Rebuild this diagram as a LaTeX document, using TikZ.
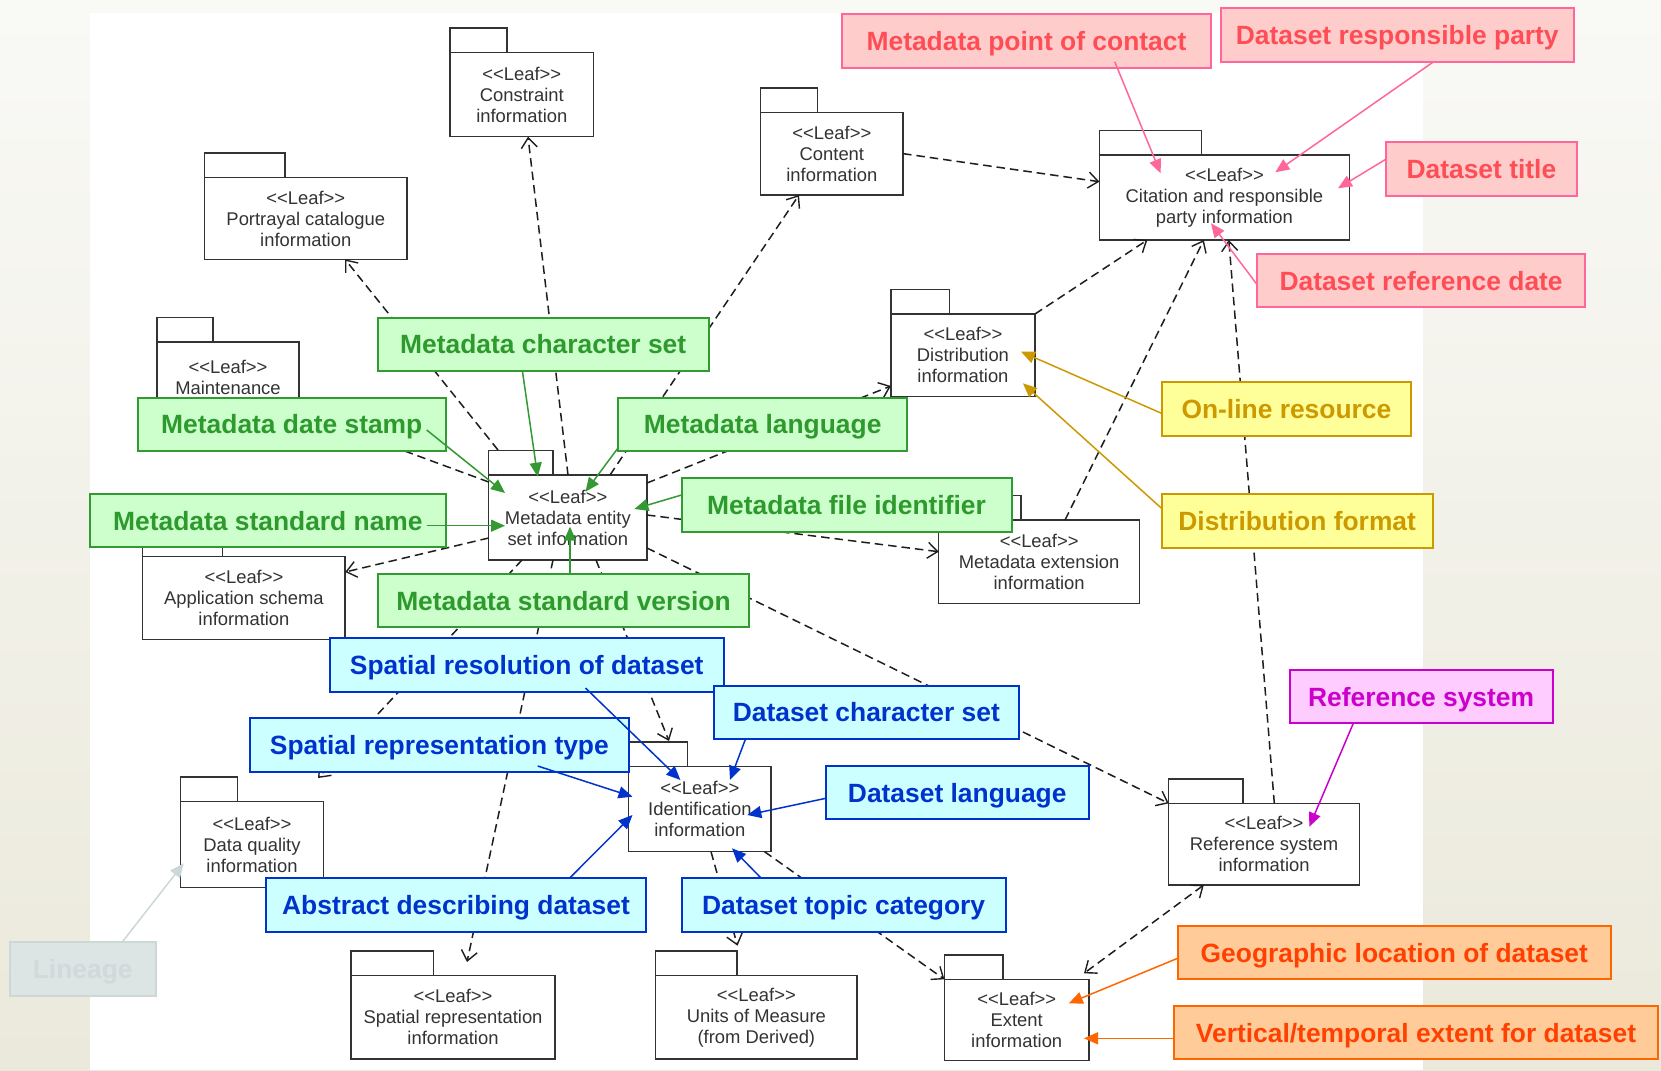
\documentclass[tikz,border=0pt]{standalone}
\usepackage{fontspec}
\setmainfont{Liberation Sans}
\usetikzlibrary{arrows.meta,calc}

\definecolor{pkgink}{HTML}{333333}
\definecolor{depink}{HTML}{1E1E1E}
\definecolor{gFill}{HTML}{CCFFCC}
\definecolor{gLine}{HTML}{339933}
\definecolor{gText}{HTML}{2E9A2E}
\definecolor{bFill}{HTML}{CCFFFF}
\definecolor{bLine}{HTML}{0033CC}
\definecolor{pFill}{HTML}{FFCCCC}
\definecolor{pLine}{HTML}{FF6699}
\definecolor{pText}{HTML}{FF4D55}
\definecolor{yFill}{HTML}{FFFF99}
\definecolor{yLine}{HTML}{CC9900}
\definecolor{mFill}{HTML}{FFCCFF}
\definecolor{mLine}{HTML}{CC00CC}
\definecolor{oFill}{HTML}{FFCC99}
\definecolor{oLine}{HTML}{FF6600}
\definecolor{oText}{HTML}{FF4000}
\definecolor{lFill}{HTML}{DDE4E4}
\definecolor{lLine}{HTML}{CCD8D8}
\definecolor{lText}{HTML}{D0DADA}
\definecolor{bgTop}{HTML}{F9F9F6}
\definecolor{bgBot}{HTML}{EBE9DB}

% stereotype line of every package (kerns keep << and >> as plain characters)
\newcommand{\leafhead}{<\kern0pt<Leaf>\kern0pt>}

\tikzset{
  pkgbox/.style={draw=pkgink, line width=1.5pt, fill=white, rectangle, inner sep=0pt,
    outer sep=0pt, anchor=north west, align=center, text=pkgink,
    font=\fontsize{18.4}{21}\selectfont},
  pkgtab/.style={draw=pkgink, line width=1.5pt, fill=white},
  dep/.style={draw=depink, line width=1.5pt, dash pattern=on 8.5pt off 5pt,
    -{Straight Barb[length=10pt,width=16pt,line width=1.4pt]}},
  tag/.style={rectangle, line width=2pt, inner sep=0pt, outer sep=0pt, anchor=north west,
    text height=18.9pt, text depth=0pt,
    font=\fontsize{26.4}{30}\selectfont\bfseries},
  gtag/.style={tag, draw=gLine, fill=gFill, text=gText},
  btag/.style={tag, draw=bLine, fill=bFill, text=bLine},
  ptag/.style={tag, draw=pLine, fill=pFill, text=pText},
  ytag/.style={tag, draw=yLine, fill=yFill, text=yLine},
  mtag/.style={tag, draw=mLine, fill=mFill, text=mLine},
  otag/.style={tag, draw=oLine, fill=oFill, text=oText},
  ltag/.style={tag, draw=lLine, fill=lFill, text=lText},
  pointer/.style={line width=1.5pt, -{Triangle[length=14pt,width=12pt]}},
}

% package: name, left, top, width, height, tab width, text
\newcommand{\leafpkg}[7]{%
  \node[pkgbox, minimum width=#4pt, minimum height=#5pt] (#1) at (#2,#3) {#7};
  \draw[pkgtab] (#1.north west) rectangle ++(#6,-24.5);
}

\begin{document}
\begin{tikzpicture}[x=1pt,y=-1pt]
\useasboundingbox (0,0) rectangle (1661,1070);

% page background
\fill[top color=bgTop, bottom color=bgBot] (0,0) rectangle (1661,1070);
\fill[white] (90,13.3) rectangle (1422.6,1070);

% packages
\leafpkg{constraint}{450}{52.7}{143.6}{84}{57}{\leafhead\\Constraint\\information}
\leafpkg{portrayal}{204.7}{177.7}{202.1}{81.6}{80.3}{\leafhead\\Portrayal catalogue\\information}
\leafpkg{maintenance}{157}{342}{142}{70}{56}{\leafhead\\Maintenance}
\leafpkg{content}{760.7}{112.3}{142.3}{82.7}{56.7}{\leafhead\\Content\\information}
\leafpkg{citation}{1099.4}{155}{250}{85}{102}{\leafhead\\Citation and responsible\\party information}
\leafpkg{distribution}{890.9}{314}{144.1}{82.7}{58.5}{\leafhead\\Distribution\\information}
\leafpkg{entity}{488.7}{475}{158.3}{85}{64.3}{\leafhead\\Metadata entity\\set information}
\leafpkg{application}{142.7}{556.7}{202.5}{82.6}{80}{\leafhead\\Application schema\\information}
\leafpkg{extension}{938.7}{520}{200.9}{83.3}{82.3}{\leafhead\\Metadata extension\\information}
\leafpkg{refinfo}{1168.7}{803.3}{190.7}{81.7}{74.3}{\leafhead\\Reference system\\information}
\leafpkg{quality}{180.6}{801.7}{142.8}{85.6}{56.7}{\leafhead\\Data quality\\information}
\leafpkg{identification}{628.7}{766.7}{142.3}{85}{58.6}{\leafhead\\Identification\\information}
\leafpkg{spatialrep}{351}{975.7}{204}{83.3}{82.6}{\leafhead\\Spatial representation\\information}
\leafpkg{units}{655.5}{975.7}{201.7}{83.3}{81.5}{\leafhead\\Units of Measure\\(from Derived)}
\leafpkg{extent}{944.4}{979.3}{144.6}{81.4}{58.6}{\leafhead\\Extent\\information}

% dependencies
\draw[dep] ($(entity.north west)+(9.3,-25)$) -- ($(portrayal.north west)+(140.3,81.6)$);
\draw[dep] ($(entity.north west)+(79.3,0)$) -- ($(constraint.north west)+(78,84)$);
\draw[dep] ($(entity.north west)+(121.3,0)$) -- ($(content.north west)+(38.3,82.7)$);
\draw[dep] ($(entity.north west)+(0,7)$) -- (maintenance.south east);
\draw[dep] ($(entity.north west)+(158.3,8)$) -- ($(distribution.north west)+(0,72)$);
\draw[dep] ($(entity.north west)+(158.3,40)$) -- ($(extension.north west)+(0,31.7)$);
\draw[dep] ($(entity.north west)+(0,63)$) -- ($(application.north west)+(202.5,15.3)$);
\draw[dep] ($(entity.north west)+(158.3,73)$) -- (refinfo.north west);
\draw[dep] ($(entity.north west)+(107.3,85)$) -- ($(identification.north west)+(40.3,-25.7)$);
\draw[dep] ($(entity.north west)+(33.3,85)$) -- ($(quality.north west)+(137.4,-23.7)$);
\draw[dep] ($(entity.north west)+(64.3,85)$) -- ($(spatialrep.north west)+(116,-13.7)$);
\draw[dep] (content.east) -- ($(citation.north west)+(0,26.7)$);
\draw[dep] (distribution.north east) -- ($(citation.north west)+(47.9,85)$);
\draw[dep] ($(extension.north west)+(126.3,0)$) -- ($(citation.north west)+(104.4,85)$);
\draw[dep] ($(refinfo.north west)+(105.6,0)$) -- ($(citation.north west)+(129.4,85)$);
\draw[dep] ($(identification.north west)+(82.3,85)$) -- ($(units.north west)+(82,-30)$);
\draw[dep] ($(identification.north west)+(135.9,85)$) -- (extent.north west);
\draw[dep, {Straight Barb[length=10pt,width=16pt,line width=1.4pt]}-{Straight Barb[length=10pt,width=16pt,line width=1.4pt]}]
  ($(refinfo.north west)+(35.1,81.7)$) -- ($(extent.north west)+(139.6,-6)$);

% callout labels
\node[gtag, minimum width=331pt, minimum height=53.3pt] (mdcharset) at (377.7,317.7) {Metadata character set};
\node[gtag, minimum width=308pt, minimum height=53pt] (mddate) at (137.8,398) {Metadata date stamp};
\node[gtag, minimum width=355.8pt, minimum height=53.3pt] (mdstdname) at (90,494) {Metadata standard name};
\node[gtag, minimum width=289.3pt, minimum height=53.3pt] (mdlang) at (618,397.7) {Metadata language};
\node[gtag, minimum width=330pt, minimum height=54pt] (mdfileid) at (681.5,477.7) {Metadata file identifier};
\node[gtag, minimum width=371.6pt, minimum height=53.3pt] (mdstdver) at (377.7,574) {Metadata standard version};

\node[btag, minimum width=393.5pt, minimum height=54pt] (spres) at (330,637.7) {Spatial resolution of dataset};
\node[btag, minimum width=305.3pt, minimum height=53.6pt] (dscharset) at (713.7,685.7) {Dataset character set};
\node[btag, minimum width=378.7pt, minimum height=54pt] (sptype) at (250,717.7) {Spatial representation type};
\node[btag, minimum width=262.9pt, minimum height=53.3pt] (dslang) at (825.8,766) {Dataset language};
\node[btag, minimum width=380pt, minimum height=54pt] (abstract) at (266,877.7) {Abstract describing dataset};
\node[btag, minimum width=324.2pt, minimum height=54pt] (dstopic) at (681.5,877.7) {Dataset topic category};

\node[ptag, minimum width=369.1pt, minimum height=53.7pt] (mdpoc) at (841.9,14) {Metadata point of contact};
\node[ptag, minimum width=353.4pt, minimum height=54pt] (dsresp) at (1220.6,8.3) {Dataset responsible party};
\node[ptag, minimum width=190.4pt, minimum height=54pt] (dstitle) at (1386.2,141.7) {Dataset title};
\node[ptag, minimum width=327.4pt, minimum height=53.3pt] (dsrefdate) at (1257.4,254) {Dataset reference date};

\node[ytag, minimum width=249.8pt, minimum height=54pt] (online) at (1161.5,381.7) {On-line resource};
\node[ytag, minimum width=271.3pt, minimum height=53.7pt] (distfmt) at (1161.5,494) {Distribution format};

\node[mtag, minimum width=263pt, minimum height=53.3pt] (refsys) at (1289.6,670) {Reference system};

\node[otag, minimum width=433.4pt, minimum height=53.3pt] (geoloc) at (1177.6,926) {Geographic location of dataset};
\node[otag, minimum width=484pt, minimum height=53.3pt] (vertext) at (1174,1006) {Vertical/temporal extent for dataset};

\node[ltag, minimum width=146.2pt, minimum height=54pt] (lineage) at (9.6,941.7) {Lineage};

% callout pointers
\draw[pointer, gLine] ($(mdcharset.north west)+(144.7,53.3)$) -- ($(entity.north west)+(49,1.7)$);
\draw[pointer, gLine] ($(mddate.north west)+(288.9,32)$) -- ($(entity.north west)+(16.3,18)$);
\draw[pointer, gLine] ($(mdstdname.north west)+(336.7,31.7)$) -- ($(entity.north west)+(16.3,50.7)$);
\draw[pointer, gLine] ($(mdlang.north west)+(0,50.3)$) -- ($(entity.north west)+(96.8,16.7)$);
\draw[pointer, gLine] ($(mdfileid.north west)+(0,17.3)$) -- ($(entity.north west)+(145.7,34)$);
\draw[pointer, gLine] ($(mdstdver.north west)+(192.3,0)$) -- ($(entity.north west)+(81.3,51.7)$);

\draw[pointer, bLine] ($(spres.north west)+(255.5,50.3)$) -- ($(identification.north west)+(51.7,13.3)$);
\draw[pointer, bLine] ($(sptype.north west)+(287.7,48.3)$) -- ($(identification.north west)+(3.8,30)$);
\draw[pointer, bLine] ($(dscharset.north west)+(31.7,53.6)$) -- ($(identification.north west)+(101.3,13.3)$);
\draw[pointer, bLine] ($(dslang.north west)+(0,32.3)$) -- ($(identification.north west)+(118.6,48.3)$);
\draw[pointer, bLine] ($(abstract.north west)+(304,0)$) -- ($(identification.north west)+(3.8,48.3)$);
\draw[pointer, bLine] ($(dstopic.north west)+(79.2,0)$) -- ($(identification.north west)+(103.3,81.6)$);

\draw[pointer, pLine] ($(mdpoc.north west)+(272.8,47.7)$) -- ($(citation.north west)+(61.2,18.3)$);
\draw[pointer, pLine] ($(dsresp.north west)+(212.2,54)$) -- ($(citation.north west)+(175.9,17.3)$);
\draw[pointer, pLine] ($(dstitle.north west)+(0,17.3)$) -- ($(citation.north west)+(238.6,33.3)$);
\draw[pointer, pLine] ($(dsrefdate.north west)+(0,31)$) -- ($(citation.north west)+(111.6,68.3)$);

\draw[pointer, yLine] ($(online.north west)+(0,31.6)$) -- ($(distribution.north west)+(130.1,37.7)$);
\draw[pointer, yLine] ($(distfmt.north west)+(0,14.3)$) -- ($(distribution.north west)+(132,69.3)$);

\draw[pointer, mLine] ($(refsys.north west)+(63.7,53.3)$) -- ($(refinfo.north west)+(140.6,23.4)$);

\draw[pointer, oLine] ($(geoloc.north west)+(0,32.3)$) -- ($(extent.north west)+(124.4,24)$);
\draw[pointer, oLine] ($(vertext.north west)+(0,32.3)$) -- ($(extent.north west)+(139.6,59)$);

\draw[pointer, lLine] ($(lineage.north west)+(112.9,0)$) -- ($(quality.north west)+(3.1,61.6)$);
\end{tikzpicture}
\end{document}
